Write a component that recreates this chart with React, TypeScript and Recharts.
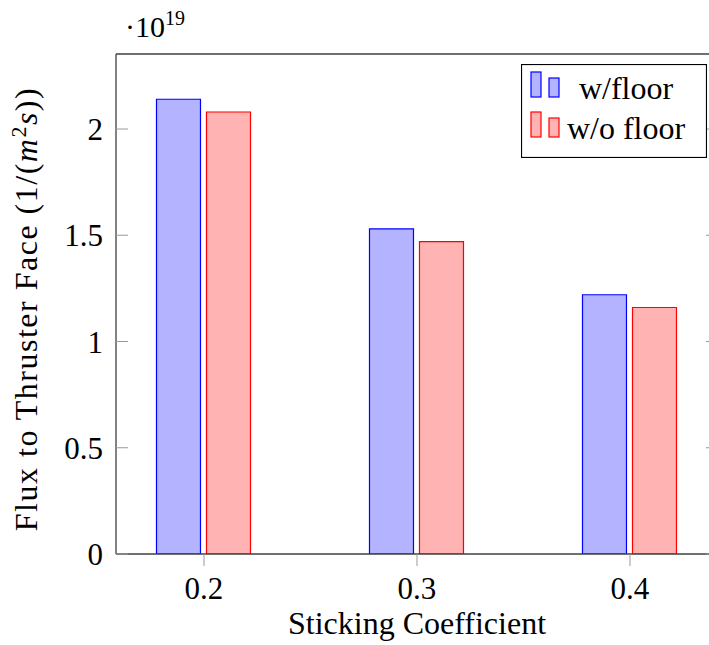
import React from 'react';
import { BarChart, Bar, XAxis, YAxis, Legend } from 'recharts';

// sticking coefficients and flux values (x 10^19)
const coefficients = [0.2, 0.3, 0.4];
const withFloor = [2.14, 1.53, 1.22];
const withoutFloor = [2.08, 1.47, 1.16];
const seriesNames = ['w/floor', 'w/o floor'];
const xTicks = [0.2, 0.3, 0.4];
const yTicks = [0, 0.5, 1, 1.5, 2];

const data = coefficients.map((c, i) => ({ coef: c, floor: withFloor[i], noFloor: withoutFloor[i] }));

const FONT = '"Liberation Serif", "DejaVu Serif", serif';
const PLOT_LEFT = 116;
const PLOT_RIGHT = 718;
const AXIS = '#404040';
const TICK = '#9a9a9a';

const XTick = (props: any) => {
    const { x, y, payload } = props;
    return (
        <text x={x} y={y + 31} textAnchor="middle" fontFamily={FONT} fontSize={31} fill="#000">
            {String(payload.value)}
        </text>
    );
};

// y labels plus the inward ticks on both sides of the frame
const YTick = (props: any) => {
    const { y, payload } = props;
    return (
        <g>
            <line x1={PLOT_LEFT} x2={PLOT_LEFT + 12} y1={y} y2={y} stroke={TICK} strokeWidth={1} />
            <line x1={PLOT_RIGHT - 12} x2={PLOT_RIGHT} y1={y} y2={y} stroke={TICK} strokeWidth={1} />
            <text x={PLOT_LEFT - 13} y={y + 11} textAnchor="end" fontFamily={FONT} fontSize={31} fill="#000">
                {String(payload.value)}
            </text>
        </g>
    );
};

const YLabel = () => (
    <text x={37} y={309} transform="rotate(-90, 37, 309)" textAnchor="middle" fontFamily={FONT} fontSize={32} letterSpacing={1.5} fill="#000">
        Flux to Thruster Face (1/(<tspan fontStyle="italic">m</tspan>
        <tspan dy={-11} fontSize={22}>2</tspan>
        <tspan dy={11} fontStyle="italic">s</tspan>))
    </text>
);

const XLabel = () => (
    <text x={417} y={634} textAnchor="middle" fontFamily={FONT} fontSize={32} fill="#000">
        Sticking Coefficient
    </text>
);

const ScaleLabel = () => (
    <text x={125} y={37} fontFamily={FONT} fontSize={30} fill="#000">
        ·10<tspan dy={-12} fontSize={20}>19</tspan>
    </text>
);

const renderLegend = (props: any) => {
    const items = props.payload || [];
    return (
        <svg width={186} height={94}>
            <rect x={0.5} y={0.5} width={185} height={93} fill="#fff" stroke="#000" strokeWidth={1.2} />
            {items.map((it: any, i: number) => {
                const top = 8 + i * 40;
                const fill = it.payload?.fill ?? it.color;
                const stroke = it.payload?.stroke ?? it.color;
                return (
                    <g key={i}>
                        <rect x={10} y={top} width={10} height={25} fill={fill} stroke={stroke} strokeWidth={1.2} />
                        <rect x={28} y={top + 6} width={10} height={19} fill={fill} stroke={stroke} strokeWidth={1.2} />
                        <text x={105} y={top + 27} textAnchor="middle" fontFamily={FONT} fontSize={32} fill="#000">
                            {it.value}
                        </text>
                    </g>
                );
            })}
        </svg>
    );
};

export default function App() {
    return (
        <div style={{ position: 'fixed', left: 0, top: 0, width: 709, height: 645, overflow: 'hidden', background: '#fff' }}>
            <BarChart width={740} height={645} data={data} margin={{ top: 53, right: 0, bottom: 0, left: 0 }} barSize={44} barGap={6}>
                <XAxis
                    dataKey="coef"
                    type="number"
                    domain={[0.15869, 0.44132]}
                    ticks={xTicks}
                    allowDataOverflow
                    height={91}
                    tickSize={12}
                    tickLine={{ stroke: TICK }}
                    axisLine={{ stroke: AXIS, strokeWidth: 1.3 }}
                    tick={<XTick />}
                    label={<XLabel />}
                />
                <XAxis
                    xAxisId="top"
                    dataKey="coef"
                    type="number"
                    orientation="top"
                    domain={[0.15869, 0.44132]}
                    ticks={xTicks}
                    allowDataOverflow
                    height={1}
                    tickSize={13}
                    tick={false}
                    tickLine={{ stroke: TICK }}
                    axisLine={{ stroke: AXIS, strokeWidth: 1.3 }}
                    label={<ScaleLabel />}
                />
                <YAxis
                    type="number"
                    domain={[0, 2.353]}
                    ticks={yTicks}
                    allowDataOverflow
                    width={116}
                    tickLine={false}
                    axisLine={{ stroke: AXIS, strokeWidth: 1.3 }}
                    tick={<YTick />}
                    label={<YLabel />}
                />
                <YAxis
                    yAxisId="right"
                    orientation="right"
                    type="number"
                    domain={[0, 2.353]}
                    width={22}
                    tick={false}
                    tickLine={false}
                    axisLine={{ stroke: AXIS, strokeWidth: 1.3 }}
                />
                <Legend
                    layout="horizontal"
                    verticalAlign="middle"
                    align="center"
                    wrapperStyle={{ position: 'absolute', left: 521, top: 64, width: 186, height: 94 }}
                    content={renderLegend}
                />
                <Bar dataKey="floor" name={seriesNames[0]} fill="#b3b3ff" stroke="#0000ff" strokeWidth={1.2} isAnimationActive={false} />
                <Bar dataKey="noFloor" name={seriesNames[1]} fill="#ffb3b3" stroke="#ff0000" strokeWidth={1.2} isAnimationActive={false} />
            </BarChart>
        </div>
    );
}
